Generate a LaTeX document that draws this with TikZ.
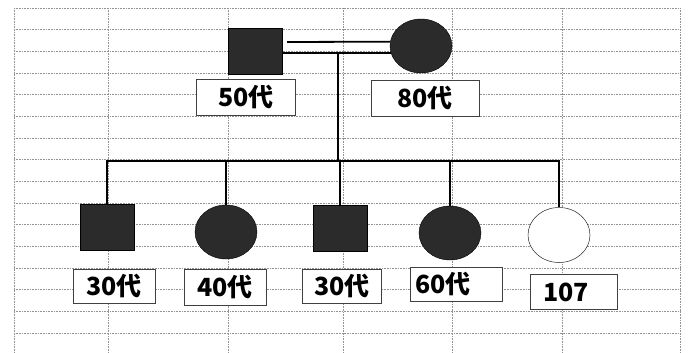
\documentclass[tikz,border=0pt]{standalone}
\usepackage{fontspec}
\newfontfamily\jp{Noto Sans CJK JP}
\usetikzlibrary{shapes.geometric}
\begin{document}
\begin{tikzpicture}[x=1pt,y=-1pt,
 gridline/.style={densely dotted, gray!85, line width=0.6pt},
 affm/.style={draw=black, fill=black!83, minimum width=54pt, minimum height=46pt, inner sep=0pt},
 afff/.style={ellipse, draw=black, fill=black!83, minimum width=62pt, minimum height=54pt, inner sep=0pt},
 unaff/.style={ellipse, draw=black!85, line width=0.5pt, fill=white, minimum width=62pt, minimum height=55pt, inner sep=0pt},
 tag/.style={draw=black!75, fill=white, line width=0.7pt, font=\jp\bfseries\fontsize{25}{25}\selectfont, minimum height=36pt, inner sep=0pt},
 kin/.style={line width=1.8pt},
 drop/.style={line width=1.3pt}]
\useasboundingbox (0,0) rectangle (688,353);
\fill[white] (0,0) rectangle (688,353);
% grid
\foreach \k in {0,...,15} \draw[gridline] (14,{8+21.67*\k}) -- (680,{8+21.67*\k});
\foreach \x in {14,108,228,343,452,562,680} \draw[gridline] (\x,8) -- (\x,353);
% parents
\node[affm] (f) at (255,51) {};
\node[afff] (m) at (421,46) {};
\node[tag, minimum width=99pt] (lf) at (246,97) {50代};
\node[tag, minimum width=108pt] (lm) at (425,98) {80代};
% children
\node[affm] (c1) at (107,227) {};
\node[afff] (c2) at (226,232) {};
\node[affm] (c3) at (340,228) {};
\node[afff] (c4) at (450,233) {};
\node[unaff] (c5) at (559,235) {};
\node[tag, minimum width=82pt, minimum height=34pt] (l1) at (114,286) {30代};
\node[tag, minimum width=82pt] (l2) at (225,287) {40代};
\node[tag, minimum width=79pt, minimum height=34pt] (l3) at (342,286) {30代};
\node[tag, minimum width=92pt, minimum height=34pt] (l4) at (456,284) {\makebox[82pt][l]{60代}};
\node[tag, minimum width=87pt, minimum height=35pt] (l5) at (574,292) {\makebox[74pt][l]{\hspace{6pt}107}};
% marriage
\coordinate (mu) at (287,42);
\draw[kin] (mu) -- (m.172);
\draw[kin] ([yshift=-2pt]f.east) -- (m.193);
\coordinate (dtop) at (338,53);
\coordinate (dbot) at (338,161);
\draw[kin] (dtop) -- (dbot);
\draw[kin, line cap=rect] (c1 |- dbot) -- (c5 |- dbot);
\foreach \c in {c1,c2,c3,c4,c5} \draw[drop] (\c |- dbot) -- (\c.north);
\end{tikzpicture}
\end{document}
